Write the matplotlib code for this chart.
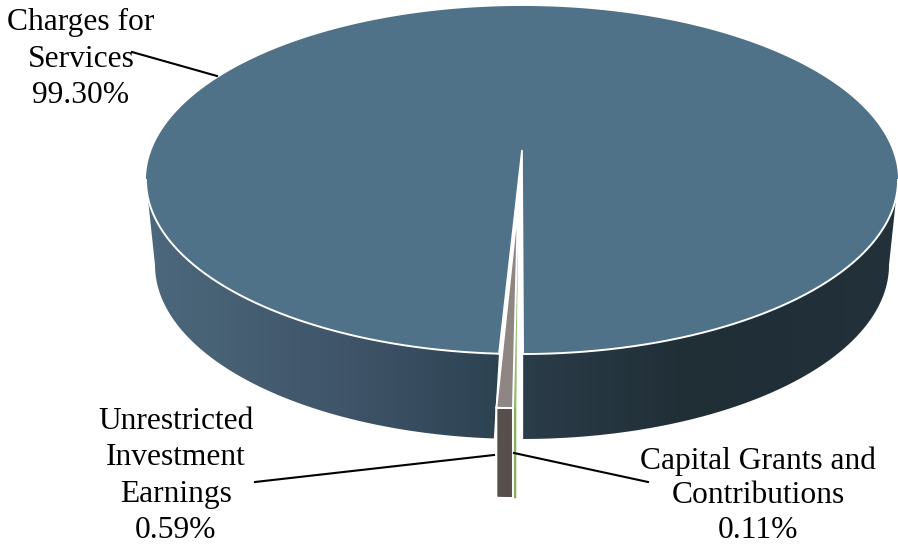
# 3D looking pie of revenue shares, drawn by hand because matplotlib pie is flat
import numpy as np
import matplotlib
matplotlib.use('Agg')
from matplotlib import pyplot as plt
from matplotlib.patches import Polygon
from matplotlib.colors import LinearSegmentedColormap

categories = ['Charges for\nServices', 'Unrestricted\nInvestment\nEarnings', 'Capital Grants and\nContributions']
shares = [99.30, 0.59, 0.11]

plt.rcParams['font.family'] = ['Liberation Serif', 'DejaVu Serif']

CX = 522
K = 60 / 348            # perspective strength
TOP_A, TOP_B, TOP_C = 370.4, 143.0, 150.0
LOW_A, LOW_B, LOW_C = 361.5, 128.3, 235.0
EXPL_DX, EXPL_DY = -4, 54
EXPL_DEPTH = 90
NOTCH_RIGHT = 0.15      # degrees left of the front point where the big slice ends

wall_cmap = LinearSegmentedColormap.from_list('wall', [(0, '#4c687c'), (0.27, '#3f5468'), (0.47, '#2d4251'),
                                                       (0.52, '#2a3b48'), (0.72, '#202f36'), (1, '#22313a')])


def top_pt(t):
    # t in radians, 0 is the front of the pie, positive goes left
    u, v = -np.sin(t), np.cos(t)
    w = 1 - K * v
    return CX + TOP_A * u / w, (TOP_C + TOP_B * v) / w


def low_pt(t):
    u, v = -np.sin(t), np.cos(t)
    w = 1 - K * v
    return CX + LOW_A * u / w, (LOW_C + LOW_B * v) / w


fig = plt.figure(figsize=(8.98, 5.44), dpi=100)
ax = fig.add_axes([0, 0, 1, 1])

# angles of slices, front point = 0
deg = np.array(shares) * 3.6
green_a = np.radians(NOTCH_RIGHT + 0.1)
green_b = green_a + np.radians(deg[2])
gray_a = green_b
gray_b = gray_a + np.radians(deg[1])
notch_l = np.radians(2.95)
notch_l_low = np.radians(3.7)
notch_r = np.radians(NOTCH_RIGHT)
side = np.pi / 2 - np.arcsin(K)   # widest point of the ellipse

# walls of the big slice, one gradient image clipped to each side
gradient = np.linspace(0, 1, 752).reshape(1, -1)
for a, b, c, d in [(notch_l, side, notch_l_low, side), (-side, -notch_r, -side, -notch_r)]:
    xt, yt = top_pt(np.linspace(a, b, 300))
    xl, yl = low_pt(np.linspace(c, d, 300))
    wall = Polygon(np.c_[np.r_[xt, xl[::-1]], np.r_[yt, yl[::-1]]], transform=ax.transData, fc='none', ec='none')
    ax.add_patch(wall)
    im = ax.imshow(gradient, cmap=wall_cmap, extent=(146, 898, 544, 0), aspect='auto', interpolation='bilinear')
    im.set_clip_path(wall)

# top of the big slice
tt = np.linspace(notch_l, 2 * np.pi - notch_r, 720)
xt, yt = top_pt(tt)
ax.fill(np.r_[CX, xt], np.r_[TOP_C, yt], color='#4f7289', lw=0)

# white rim on the front and along the cut
xr, yr = top_pt(np.linspace(notch_l, side, 200))
ax.plot(xr, yr, color='white', lw=1.4)
xr, yr = top_pt(np.linspace(-side, -notch_r, 200))
ax.plot(xr, yr, color='white', lw=1.4)
xl_, yl_ = top_pt(notch_l)
xr_, yr_ = top_pt(-notch_r)
ax.fill([CX, xl_, xr_], [TOP_C, yl_, yr_], facecolor='white', edgecolor='white', lw=1.2)


def exploded(a, b, top_col, side_col, edge):
    tt = np.linspace(a, b, 12)
    xt, yt = top_pt(tt)
    xt, yt = xt + EXPL_DX, yt + EXPL_DY
    ec1 = 'white' if edge else side_col
    ec2 = 'white' if edge else top_col
    lw = 1.4 if edge else 0.3
    ax.fill(np.r_[xt, xt[::-1]], np.r_[yt, yt[::-1] + EXPL_DEPTH], facecolor=side_col, edgecolor=ec1, lw=lw)
    ax.fill(np.r_[CX + EXPL_DX, xt], np.r_[TOP_C + EXPL_DY, yt], facecolor=top_col, edgecolor=ec2, lw=lw)


exploded(green_a, green_b, '#8fbc6e', '#85b060', False)
exploded(gray_a, gray_b, '#8f8582', '#574f4b', True)

# labels and leader lines
ax.text(81, 59, f'{categories[0]}\n{shares[0]:.2f}%', ha='center', va='center', fontsize=22.7, color='black', linespacing=1.33)
ax.text(176, 476, f'{categories[1]}\n{shares[1]:.2f}%', ha='center', va='center', fontsize=22.7, color='black', linespacing=1.33)
ax.text(758, 495.5, f'{categories[2]}\n{shares[2]:.2f}%', ha='center', va='center', fontsize=22.7, color='black', linespacing=1.245)
ax.plot([132, 217], [52, 76], color='black', lw=1.5)
ax.plot([255, 494], [482, 455], color='black', lw=1.5)
ax.plot([514, 648], [453, 482], color='black', lw=1.5)

ax.set_xlim(0, 898)
ax.set_ylim(544, 0)
ax.axis('off')

fig.savefig('out.png', dpi=100)
